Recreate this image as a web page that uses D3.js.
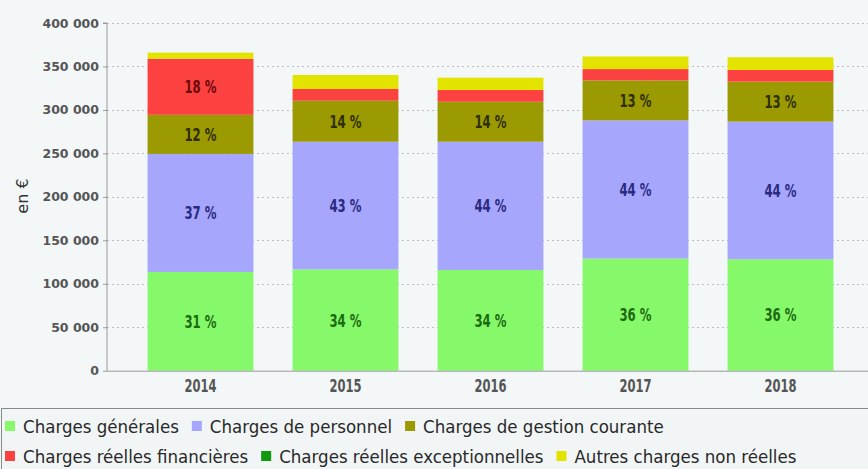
<!DOCTYPE html>
<html>
<head>
<meta charset="utf-8">
<script src="https://cdn.jsdelivr.net/npm/d3@7"></script>
<style>
    body { margin: 0; background: #f3f7f8; }
    #chart { width: 868px; height: 469px; }
</style>
</head>
<body>
<div id="chart"></div>
<script>

// values, in thousands of euros
const years = ["2014", "2015", "2016", "2017", "2018"];
const seriesNames = ["Charges générales", "Charges de personnel", "Charges de gestion courante",
    "Charges réelles financières", "Charges réelles exceptionnelles", "Autres charges non réelles"];
const generales = [113.6, 116.6, 115.8, 129, 128.2];
const personnel = [135.8, 146.8, 147.6, 159, 158.3];
const gestion = [45, 47.2, 46, 46, 46];
const financieres = [64.5, 13.5, 13.5, 13, 13.5];
const exceptionnelles = [0, 0, 0, 0, 0];
const nonReelles = [7, 16.1, 14.2, 14.5, 14.6];
const yTicks = [0, 50000, 100000, 150000, 200000, 250000, 300000, 350000, 400000];

const colors = ["#86f96a", "#a6a6fc", "#9c9a02", "#fc4141", "#0f9a0f", "#e3e300"];
const labelColors = ["#1c6a10", "#2a2a80", "#2e2e00", "#6a0a0a", "#063c06", "#555500"];

let margin = {top: 23, left: 107};
let width = 868, height = 469;
let svg = d3.select("#chart").append("svg")
    .attr("width", width)
    .attr("height", height);

let table = years.map((y, i) => ({
    year: y,
    s0: generales[i] * 1000, s1: personnel[i] * 1000, s2: gestion[i] * 1000,
    s3: financieres[i] * 1000, s4: exceptionnelles[i] * 1000, s5: nonReelles[i] * 1000
}));
let keys = ["s0", "s1", "s2", "s3", "s4", "s5"];
let stacked = d3.stack().keys(keys)(table);

let x = d3.scaleBand()
    .domain(years)
    .range([128, 853])
    .paddingInner(0.27)
    .paddingOuter(0.135);

let y = d3.scaleLinear()
    .domain([0, 400000])
    .range([370.7, margin.top]);

// grid lines
svg.append("g")
    .selectAll("line")
    .data(yTicks.slice(1))
    .join("line")
    .attr("x1", margin.left)
    .attr("x2", width)
    .attr("y1", d => Math.round(y(d)) + 0.5)
    .attr("y2", d => Math.round(y(d)) + 0.5)
    .attr("stroke", "#c4b8c8")
    .attr("stroke-dasharray", "2,3");

// bars
let groups = svg.append("g")
    .selectAll("g")
    .data(stacked)
    .join("g")
    .attr("fill", (d, i) => colors[i]);

groups.selectAll("rect")
    .data(d => d)
    .join("rect")
    .attr("x", d => x(d.data.year))
    .attr("width", x.bandwidth())
    .attr("y", d => y(d[1]))
    .attr("height", d => y(d[0]) - y(d[1]));

// percentage labels (the font in the picture is tall and narrow, so stretch it)
let fmtPct = v => `${Math.round(v)} %`;
stacked.forEach((layer, li) => {
    svg.append("g")
        .selectAll("text")
        .data(layer.filter(d => {
            let tot = d3.sum(keys, k => d.data[k]);
            return (d[1] - d[0]) / tot >= 0.1;
        }))
        .join("text")
        .attr("transform", d => `translate(${x(d.data.year) + x.bandwidth() / 2},${(y(d[0]) + y(d[1])) / 2 + 6.5}) scale(1,1.4)`)
        .attr("text-anchor", "middle")
        .attr("font-family", "DejaVu Sans Condensed")
        .attr("font-weight", "bold")
        .attr("font-size", "13px")
        .attr("fill", labelColors[li])
        .text(d => {
            let tot = d3.sum(keys, k => d.data[k]);
            return fmtPct((d[1] - d[0]) / tot * 100);
        });
});

// y axis
let fmtTick = d => d3.format(",")(d).replace(/,/g, " ");
let yAxis = svg.append("g")
    .attr("transform", `translate(${margin.left},0)`)
    .call(d3.axisLeft(y).tickValues(yTicks).tickSize(4).tickFormat(fmtTick));
yAxis.select(".domain").attr("stroke", "#9a9a9a").attr("d", `M-4,${y(400000)}H0V${y(0)}`);
yAxis.selectAll(".tick line").attr("stroke", "#9a9a9a");
yAxis.selectAll(".tick text")
    .attr("x", -8)
    .attr("font-family", "DejaVu Sans")
    .attr("font-weight", "bold")
    .attr("font-size", "12.5px")
    .attr("fill", "#555");

// x axis
let xAxis = svg.append("g")
    .attr("transform", `translate(0,${y(0)})`)
    .call(d3.axisBottom(x).tickSize(0).tickFormat(""));
xAxis.select(".domain").attr("stroke", "#9a9a9a").attr("d", `M${margin.left},0.5H${width}`);
xAxis.selectAll(".tick")
    .append("text")
    .attr("transform", "translate(0,21) scale(1,1.4)")
    .attr("text-anchor", "middle")
    .attr("font-family", "DejaVu Sans Condensed")
    .attr("font-weight", "bold")
    .attr("font-size", "12.8px")
    .attr("fill", "#555")
    .text(d => d);

// y axis title
svg.append("text")
    .attr("transform", `translate(28, 196) rotate(-90)`)
    .attr("text-anchor", "middle")
    .attr("font-family", "DejaVu Sans")
    .attr("font-size", "16px")
    .attr("fill", "#333")
    .text("en €");

// legend box
svg.append("rect")
    .attr("x", 1.5)
    .attr("y", 408.5)
    .attr("width", width)
    .attr("height", 70)
    .attr("fill", "#f1f5f6")
    .attr("stroke", "#8a8a8a");

let legendRows = [[0, 1, 2], [3, 4, 5]];
legendRows.forEach((row, ri) => {
    let cx = 5;
    row.forEach(si => {
        let base = 433 + ri * 30;
        svg.append("rect")
            .attr("x", cx)
            .attr("y", base - 12)
            .attr("width", 10)
            .attr("height", 10)
            .attr("fill", colors[si]);
        let t = svg.append("text")
            .attr("x", cx + 18)
            .attr("y", base)
            .attr("font-family", "DejaVu Sans Condensed")
            .attr("font-size", "18.5px")
            .attr("fill", "#282828")
            .text(seriesNames[si]);
        cx += 18 + t.node().getComputedTextLength() + 13;
    });
});

</script>
</body>
</html>
